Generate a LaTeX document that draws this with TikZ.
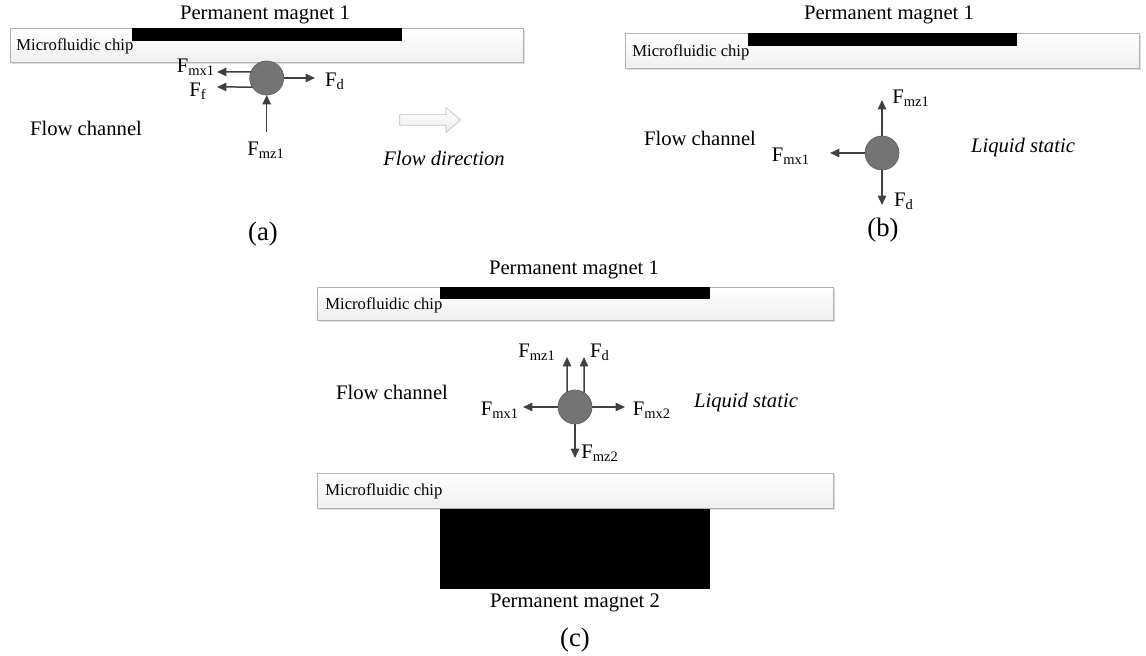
\documentclass[tikz,border=0pt]{standalone}
\usepackage{fontspec}
\setmainfont{Liberation Serif}
\usepackage{tikz}
\usetikzlibrary{shapes.arrows, shadows, arrows.meta, positioning}

\definecolor{beadgray}{HTML}{747474}
\definecolor{beadline}{HTML}{5E5E5E}
\definecolor{forcegray}{HTML}{404040}

\newcommand{\frc}[1]{F\textsubscript{#1}}

\tikzset{
  chip/.style={draw=gray!60, top color=white, bottom color=gray!12,
    drop shadow={shadow xshift=1.2pt, shadow yshift=-1.2pt, fill=gray!40, opacity=0.7}},
  magnet/.style={fill=black},
  bead/.style={circle, fill=beadgray, draw=beadline, minimum size=20.4pt, inner sep=0, outer sep=0},
  force/.style={draw=forcegray, line width=0.9pt, -{Triangle[length=5.6pt,width=5pt]}},
  lbl/.style={inner sep=0, font=\fontsize{12.4}{15}\selectfont},
  panelcap/.style={inner sep=0, font=\fontsize{16}{19}\selectfont},
  chiptxt/.style={inner sep=0, anchor=west, font=\fontsize{10}{12}\selectfont},
  flowarrow/.style={single arrow, draw=gray!50, top color=white, bottom color=gray!15,
    minimum height=36.6pt, inner sep=3pt, single arrow head extend=4.2pt, single arrow tip angle=80}
}

\begin{document}
\begin{tikzpicture}[x=0.6pt, y=-0.6pt]
    \useasboundingbox (0,0) rectangle (1146,656);

    % (a) chip and magnet
    \draw[chip] (10,28) rectangle (523,62);
    \fill[magnet] (132,28) rectangle (402,41);
    \node[lbl] (pma) at (265,15) {Permanent magnet 1};
    \node[chiptxt] (chipa) at (16,46) {Microfluidic chip};
    \node[lbl] (chana) at (86,128) {Flow channel};
    \node[flowarrow] (flowarr) at (427,120) {};
    \node[lbl, font=\fontsize{12.4}{15}\selectfont\itshape] (flowdir) at (444,158) {Flow direction};
    \node[panelcap] (capa) at (263,234) {(a)};

    % (a) bead and forces
    \node[bead] (ba) at (266.7,78) {};
    \coordinate (amx1) at (217,72);
    \coordinate (af) at (217,87);
    \coordinate (ad) at (315,78);
    \coordinate (amz1) at (266.7,132);
    \draw[force] (ba.159) -- (amx1);
    \draw[force] (ba.212) -- (af);
    \draw[force] (ba.east) -- (ad);
    \draw[force] (amz1) -- (ba.south);
    \node[lbl] (lamx1) at (196,67) {\frc{mx1}};
    \node[lbl] (laf) at (198,91) {\frc{f}};
    \node[lbl] (lad) at (335,81) {\frc{d}};
    \node[lbl] (lamz1) at (266,150) {\frc{mz1}};

    % (b) chip and magnet
    \draw[chip] (625,33) rectangle (1139,68);
    \fill[magnet] (748,33) rectangle (1017,46);
    \node[lbl] (pmb) at (889,15) {Permanent magnet 1};
    \node[chiptxt] (chipb) at (632,52) {Microfluidic chip};
    \node[lbl] (chanb) at (700,138) {Flow channel};
    \node[lbl, font=\fontsize{12.4}{15}\selectfont\itshape] (statb) at (1023,148) {Liquid static};
    \node[panelcap] (capb) at (883,230) {(b)};

    % (b) bead and forces
    \node[bead] (bb) at (882,153) {};
    \coordinate (bmz1) at (882,100);
    \coordinate (bmx1) at (830,153);
    \coordinate (bd) at (882,205);
    \draw[force] (bb.north) -- (bmz1);
    \draw[force] (bb.west) -- (bmx1);
    \draw[force] (bb.south) -- (bd);
    \node[lbl] (lbmz1) at (911,98) {\frc{mz1}};
    \node[lbl] (lbmx1) at (791,156) {\frc{mx1}};
    \node[lbl] (lbd) at (904,201) {\frc{d}};

    % (c) chips and magnets
    \draw[chip] (317,287) rectangle (833,320);
    \fill[magnet] (440,287) rectangle (710,299);
    \draw[chip] (317,473) rectangle (833,508);
    \fill[magnet] (440,509) rectangle (710,589);
    \node[lbl] (pmc) at (574,270) {Permanent magnet 1};
    \node[chiptxt] (chipc) at (325,305) {Microfluidic chip};
    \node[chiptxt] (chipd) at (325,491) {Microfluidic chip};
    \node[lbl] (pmd) at (575,603) {Permanent magnet 2};
    \node[lbl] (chanc) at (392,392) {Flow channel};
    \node[lbl, font=\fontsize{12.4}{15}\selectfont\itshape] (statc) at (746,403) {Liquid static};
    \node[panelcap] (capc) at (575,640) {(c)};

    % (c) bead and forces
    \node[bead] (bc) at (575,407) {};
    \coordinate (cmz1) at (567,357);
    \coordinate (cd) at (584,357);
    \coordinate (cmx1) at (523,407);
    \coordinate (cmx2) at (625,407);
    \coordinate (cmz2) at (575,458);
    \draw[force] (bc.118) -- (cmz1);
    \draw[force] (bc.58) -- (cd);
    \draw[force] (bc.west) -- (cmx1);
    \draw[force] (bc.east) -- (cmx2);
    \draw[force] (bc.south) -- (cmz2);
    \node[lbl] (lcmz1) at (537,352) {\frc{mz1}};
    \node[lbl] (lcd) at (600,352) {\frc{d}};
    \node[lbl] (lcmx1) at (500,410) {\frc{mx1}};
    \node[lbl] (lcmx2) at (652,410) {\frc{mx2}};
    \node[lbl] (lcmz2) at (600,453) {\frc{mz2}};

\end{tikzpicture}
\end{document}
